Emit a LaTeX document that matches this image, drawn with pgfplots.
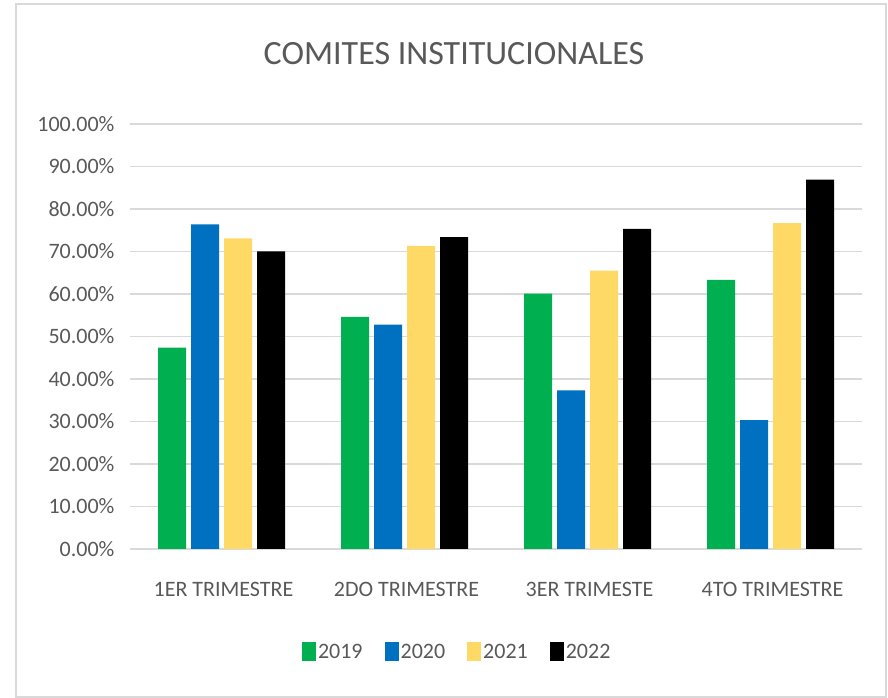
\documentclass[border=0pt]{standalone}
\usepackage{pgfplots}
\pgfplotsset{compat=1.18}
\usepackage{fontspec}
\setmainfont{Carlito}
\definecolor{c19}{HTML}{00B050}
\definecolor{c20}{HTML}{0070C0}
\definecolor{c21}{HTML}{FFD966}
\definecolor{c22}{HTML}{000000}
\definecolor{gridgray}{HTML}{D9D9D9}
\definecolor{txt}{HTML}{595959}
\begin{document}
\begin{tikzpicture}[x=1pt,y=1pt]
\path[use as bounding box] (0,0) rectangle (888,698);
\fill[white] (0,0) rectangle (888,698);
\draw[color=gridgray, line width=2pt] (16,1) rectangle (886,694);
\node[anchor=base, font=\fontsize{34}{40}\selectfont, text=txt, inner sep=0pt] at (454,633) {COMITES INSTITUCIONALES};
\begin{axis}[
  at={(130pt,149pt)}, anchor=south west,
  scale only axis, width=732pt, height=425pt,
  ymin=0, ymax=100, xmin=-0.5, xmax=3.5,
  ybar=5pt, bar width=28pt,
  xtick={0,1,2,3},
  xticklabels={1ER TRIMESTRE,2DO TRIMESTRE,3ER TRIMESTE,4TO TRIMESTRE},
  ytick={0,10,...,100},
  yticklabels={0.00\%,10.00\%,20.00\%,30.00\%,40.00\%,50.00\%,60.00\%,70.00\%,80.00\%,90.00\%,100.00\%},
  ymajorgrids, major grid style={gridgray, line width=1.5pt},
  axis line style={draw=none},
  major tick length=0pt,
  tick label style={font=\fontsize{22}{26}\selectfont, text=txt},
  /pgf/number format/assume math mode=true,
  yticklabel style={xshift=-12pt},
  xticklabel style={yshift=-30pt, xshift=2pt},
  legend style={at={(0.447,-0.242)}, anchor=center, legend columns=-1, draw=none,
    font=\fontsize{22}{26}\selectfont, text=txt,
    /tikz/every even column/.append style={column sep=20pt}},
  legend image code/.code={\path[#1] (0pt,-9.5pt) rectangle (14pt,9.5pt);},
]
\addplot[fill=c19, draw=none] coordinates {(0,47.4) (1,54.6) (2,60.1) (3,63.3)};
\addplot[fill=c20, draw=none] coordinates {(0,76.4) (1,52.8) (2,37.3) (3,30.3)};
\addplot[fill=c21, draw=none] coordinates {(0,73.1) (1,71.3) (2,65.5) (3,76.7)};
\addplot[fill=c22, draw=none] coordinates {(0,70.0) (1,73.4) (2,75.3) (3,86.9)};
\legend{2019,2020,2021,2022}
\end{axis}
\end{tikzpicture}
\end{document}
